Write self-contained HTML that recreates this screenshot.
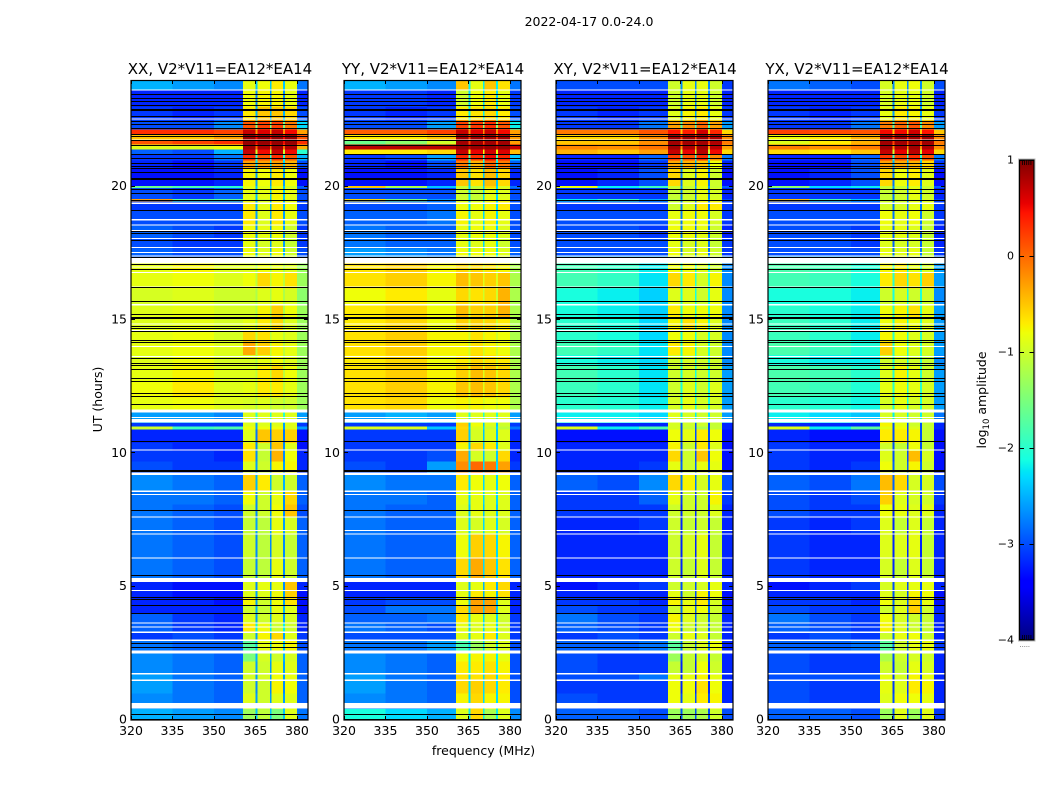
<!DOCTYPE html>
<html>
<head>
<meta charset="utf-8">
<title>2022-04-17 spectrogram</title>
<style>
html,body{margin:0;padding:0;background:#fff;width:1050px;height:800px;overflow:hidden}
svg{display:block}
text{font-family:"DejaVu Sans","Liberation Sans",sans-serif;fill:#000}
.t{font-size:12.5px}
.h{font-size:15px}
</style>
</head>
<body>
<svg id="fig" width="1050" height="800" viewBox="0 0 1050 800" xmlns="http://www.w3.org/2000/svg">
<text x="589" y="26" class="t" text-anchor="middle">2022-04-17 0.0-24.0</text>
<text x="483.5" y="755" class="t" text-anchor="middle">frequency (MHz)</text>
<text transform="translate(102,399.5) rotate(-90)" class="t" text-anchor="middle">UT (hours)</text>
<text transform="translate(986,400) rotate(-90)" class="t" text-anchor="middle">log<tspan dy="3" style="font-size:8.5px">10</tspan><tspan dy="-3"> amplitude</tspan></text>
<g id="panels"></g>
<g id="cbar"></g>
</svg>
<script>
// ---- Data: UT hours, MHz, log10 amplitude ----
const panelTitles = ["XX, V2*V11=EA12*EA14","YY, V2*V11=EA12*EA14","XY, V2*V11=EA12*EA14","YX, V2*V11=EA12*EA14"];
const xTicks = [320,335,350,365,380];
const yTicks = [0,5,10,15,20];
const cbarTicks = [-4,-3,-2,-1,0,1];
const cbarMinor = [-3.98,-3.96,-3.94,-3.92,-3.9,0.9,0.92,0.94,0.96,0.98];
const freqEdges = [320,335,350,360.5,365.1,365.8,370.2,370.8,375,375.6,380,384];
// which of the nine per-row values each frequency column shows
const freqSeries = [0,1,2,3,8,4,8,5,8,6,7];
const rowEdges = [0,.43,1,1.5,1.73,2.2,2.6,3,3.3,3.65,4,4.3,4.6,4.85,5.2,6.1,7,7.6,8.1,8.6,9.2,9.7,10.1,10.4,10.9,11.02,11.15,11.65,12.1,12.7,13.3,13.7,14.2,14.6,15.1,15.6,16.2,16.8,17.15,17.4,17.7,18.1,18.6,19.1,19.45,19.55,19.96,20.03,20.7,21,21.2,21.4,21.6,21.75,21.95,22.15,22.5,23,23.65,24];
const blankedRanges = [[.43,.63],[1.47,1.52],[1.71,1.76],[2.5,2.6],[2.96,3.01],[3.27,3.31],[3.46,3.5],[3.62,3.66],[4.83,4.87],[5.17,5.33],[6.06,6.1],[6.96,7],[7.08,7.12],[7.6,7.64],[8.43,8.48],[8.55,8.6],[9.19,9.28],[10.11,10.15],[11.15,11.28],[11.33,11.37],[11.54,11.64],[13.61,13.65],[13.98,14.02],[14.58,14.62],[14.83,14.87],[15.55,15.6],[16.21,16.25],[16.76,16.8],[16.96,17],[17.12,17.32],[17.38,17.42],[17.52,17.55],[17.7,17.74],[18.04,18.08],[18.33,18.37],[18.55,18.59],[18.74,18.78],[19.35,19.4],[21.72,21.76],[22.51,22.55],[23.61,23.65]];
const zeroLines = [0,.17,2.7,2.85,3.97,4.29,4.5,4.58,5.39,7.83,9.3,9.35,10.41,11.81,12.12,12.22,12.68,12.78,13.14,13.26,13.35,13.54,14.14,14.2,14.56,14.67,14.75,15.05,15.09,15.2,15.68,16.2,17.08,16.87,17.33,17.97,18.22,18.3,19.08,19.47,19.72,19.87,20.25,20.3,20.5,20.65,20.75,20.85,21.02,21.2,21.54,21.72,21.87,21.93,22.18,22.33,22.43,22.62,22.82,22.88,23.02,23.18,23.3,23.43];
const seriesXX = [
[-2.5,-2.6,-2.7,-1.3,-1.1,-1.5,-.9,-2.8,-2.4],[-2.7,-2.8,-2.9,-.9,-1,-.9,-.9,-2.9,-2.6],[-2.6,-2.8,-2.9,-1,-1,-.75,-.8,-2.9,-2.7],[-2.6,-2.8,-2.9,-.95,-.95,-.8,-.85,-2.9,-2.6],[-2.7,-2.8,-2.9,-1,-1,-.85,-.9,-2.9,-2.6],[-2.7,-2.8,-2.9,-1.5,-.95,-1,-.95,-2.9,-2.5],[-2.8,-2.9,-2.9,-1.7,-.85,-.8,-.75,-3,-2.4],[-3.1,-3,-3.1,-1,-.75,-.6,-.9,-3.1,-2.6],[-2.9,-3.1,-3.2,-.7,-.8,-1,-1,-3.2,-2.2],[-2.9,-3.1,-3.2,-.9,-1,-.9,-.95,-3.2,-2.6],
[-3.2,-3.2,-3.2,-1,-1.05,-.85,-.9,-3.3,-2.5],[-3.2,-3.2,-3.3,-.75,-1,-.8,-.65,-3.3,-2.6],[-3.2,-3.3,-3.3,-.9,-.9,-.8,-.55,-3.3,-2.6],[-3.2,-3.3,-3.3,-.9,-.85,-.85,-.5,-3.2,-2.7],[-2.8,-2.9,-3,-1.05,-1.1,-.85,-1,-2.9,-2.7],[-2.8,-2.9,-3,-1,-1.1,-.95,-1.05,-2.9,-2.7],[-2.8,-2.9,-3,-1.05,-1.1,-.85,-.95,-2.9,-2.6],[-2.8,-2.9,-3,-1,-1,-.8,-.5,-3,-2.7],[-2.8,-2.8,-2.9,-.8,-1,-.85,-.6,-2.9,-2.7],[-2.7,-2.8,-2.9,-.55,-.7,-1,-1,-2.9,-2.5],
[-3,-3.1,-3.1,-.9,-1,-.75,-.75,-3.2,-2.6],[-3.1,-3.1,-3.2,-.65,-1.05,-.4,-.8,-3.2,-2.7],[-3.1,-3.2,-3.2,-.7,-1,-.5,-.9,-3.3,-2.7],[-3.2,-3.2,-3.2,-.9,-.5,-.55,-.55,-3.3,-2.8],[-1,-1.9,-1.8,-.8,-.8,-.8,-.9,-2.6,-2.6],[-3.1,-3.1,-3.1,-.9,-.9,-.9,-.9,-3.1,-2.6],[-2.6,-2.6,-2.7,-.9,-.9,-.9,-.9,-2.6,-2],[-.85,-.8,-.9,-.95,-.9,-1,-1,-1.3,-1.2],[-.8,-.7,-.9,-.85,-.7,-.7,-.85,-1.3,-1.1],[-.85,-.75,-.9,-.9,-.7,-.6,-.8,-1.3,-1.1],
[-.9,-.8,-.95,-.95,-.85,-.8,-.9,-1.3,-1.2],[-.85,-.8,-.9,-.35,-.55,-.75,-.85,-1.3,-1.1],[-.85,-.8,-.95,-.6,-.65,-.85,-.9,-1.3,-1.1],[-.9,-.85,-.95,-.85,-.7,-.6,-.9,-1.3,-1.2],[-.9,-.85,-.95,-.95,-.75,-.55,-.8,-1.3,-1.2],[-.95,-.9,-1,-1,-.9,-.85,-.95,-1.4,-1.2],[-.85,-.8,-.9,-.8,-.6,-.75,-.65,-1.3,-1.1],[-.85,-.75,-.9,-.9,-.8,-.85,-.9,-1.3,-1.2],[-2.9,-2.9,-2.9,-.85,-.8,-.8,-.9,-2.9,-2.3],
[-2.9,-3,-3,-.8,-.9,-.8,-1,-3,-2.5],[-3,-3.1,-3.1,-.85,-.95,-.9,-1.05,-3.1,-2.6],[-2.9,-3,-3.1,-.8,-.85,-.8,-1,-3.1,-2.6],[-3,-3,-3,-.7,-.9,-.7,-.85,-3,-2.6],[-3.1,-3.1,-3.1,-.7,-.85,-.7,-.8,-3.1,-2.5],[-.3,-1.7,-1.7,-.9,-1,-.8,-.9,-3,-2.5],[-3,-3.1,-2.9,-.85,-.85,-.75,-.85,-3,-2.4],[-1.6,-1.8,-2,-.85,-.9,-.85,-1,-2.9,-2.4],[-3.3,-3.3,-3.2,-.75,-.8,-.7,-.8,-3.3,-2.6],[-3.2,-3.3,-3.1,-.3,-.3,-.3,-.4,-3,-2.3],
[-3.1,-3.1,-2.8,.3,.1,.3,.1,-2.5,-2],[-2.9,-3,-2.5,.7,.5,.7,.5,-2,-1],[-.9,-.9,-.8,.85,.8,.85,.8,-.4,0],[.1,.2,.3,.9,.9,.9,.9,.3,.5],[-.5,-.5,-.3,.9,.9,.9,.9,.1,.5],[.3,.3,.2,.7,.6,.7,.5,-.3,-.2],[-3,-3,-2.7,.1,.2,.2,-.1,-2.3,-1.5],[-3.1,-3.2,-3.1,-.7,-.5,-.5,-.6,-3,-2.5],[-3.2,-3.2,-3.2,-.8,-.75,-.75,-.85,-3.2,-2.7],[-2.5,-2.6,-2.7,-.85,-.8,-.7,-.85,-2.8,-2.4]
];
const seriesYY = [
[-2.1,-2.3,-2.5,-.9,-.6,-1.2,-.9,-2.7,-2.2],[-2.7,-2.8,-2.9,-.75,-.6,-.75,-.75,-3,-2.3],[-2.6,-2.8,-2.9,-.6,-.55,-.6,-.7,-3,-2.3],[-2.6,-2.8,-2.9,-.65,-.65,-.6,-.7,-3,-2.3],[-2.7,-2.8,-2.9,-.7,-.7,-.65,-.75,-3,-2.2],[-2.7,-2.8,-2.9,-.8,-.75,-.75,-.85,-3,-2.2],[-2.8,-2.8,-2.6,-1.8,-1.3,-1,-.9,-3,-2.3],[-3,-3,-3,-.9,-.85,-.7,-.9,-3.1,-2.4],[-2.8,-2.9,-3,-.85,-.9,-.85,-.95,-3.1,-2.3],[-2.9,-2.9,-2.8,-.7,-.85,-.9,-1,-3.1,-2.3],
[-3,-2.8,-2.8,-.6,-.3,-.3,-.9,-3.2,-2.4],[-3.1,-3,-3,-.8,-.3,-.3,-.9,-3.2,-2.4],[-3.2,-3.2,-3.2,-.85,-.7,-.75,-.65,-3.2,-2.5],[-3.2,-3.2,-3.2,-.9,-.85,-.7,-.6,-3.2,-2.5],[-2.8,-2.9,-2.9,-.6,-.35,-.5,-.65,-2.9,-2.3],[-2.8,-2.9,-2.9,-.8,-.55,-.6,-.75,-2.9,-2.3],[-2.8,-2.9,-2.9,-.9,-.95,-.9,-.95,-2.9,-2.3],[-2.8,-2.9,-2.9,-.9,-.85,-.9,-.9,-2.9,-2.4],[-2.8,-2.8,-2.9,-.85,-.85,-.9,-.9,-2.9,-2.3],[-2.7,-2.8,-2.8,-.7,-.8,-.85,-.8,-2.9,-2.3],
[-3,-3.1,-2.6,-.2,.0,-.1,-.3,-3.1,-2.3],[-3.1,-3.1,-3,-.35,-.95,-1,-.6,-3.2,-2.4],[-3.1,-3.1,-3.1,-.75,-.6,-.7,-.9,-3.2,-2.4],[-3.1,-3.1,-3.1,-.55,-.95,-.9,-.9,-3.2,-2.4],[-.9,-.9,-2.4,-.6,-.9,-1,-1.1,-2.8,-2.3],[-3.1,-3.1,-3.1,-.55,-.8,-.9,-1,-3.1,-2.4],[-2.6,-2.5,-2.6,-.9,-.9,-.9,-.9,-2.6,-2],[-.65,-.6,-.8,-.75,-.75,-.8,-.8,-1.2,-1],[-.65,-.55,-.75,-.5,-.45,-.5,-.6,-1.2,-.9],[-.65,-.55,-.75,-.55,-.45,-.5,-.6,-1.2,-.9],
[-.7,-.6,-.8,-.7,-.6,-.65,-.7,-1.2,-1],[-.65,-.55,-.75,-.75,-.65,-.75,-.8,-1.2,-1],[-.65,-.55,-.75,-.75,-.65,-.75,-.8,-1.2,-1],[-.7,-.6,-.8,-.55,-.55,-.6,-.7,-1.2,-1],[-.7,-.6,-.8,-.45,-.55,-.55,-.4,-1.2,-1],[-.8,-.7,-.85,-.6,-.65,-.6,-.4,-1.2,-1],[-.65,-.55,-.75,-.45,-.5,-.55,-.5,-1.2,-.9],[-.65,-.55,-.75,-.6,-.6,-.65,-.75,-1.2,-1],[-2.6,-2.6,-2.7,-.85,-.75,-.85,-.9,-2.8,-2],
[-2.6,-2.7,-2.8,-.8,-.8,-.8,-.9,-2.9,-2.2],[-2.8,-2.9,-2.9,-.85,-.9,-.85,-1,-3,-2.3],[-2.8,-2.9,-2.9,-.85,-.8,-.8,-.9,-3,-2.3],[-2.9,-2.9,-2.8,-.75,-.85,-.75,-.85,-3,-2.3],[-3,-3,-2.9,-.8,-.8,-.75,-.7,-3,-2.3],[-.6,-1.5,-2.6,-1,-1.1,-.8,-.85,-2.9,-2.3],[-3,-3,-3,-1,-1.05,-.85,-.9,-3,-2.3],[-.5,-1.2,-2.4,-1.05,-1.1,-.6,-.95,-2.8,-2.3],[-3.3,-3.3,-3.2,-.5,-.65,-.45,-.6,-3.2,-2.4],[-3.2,-3.3,-3,-.1,-.4,0,-.1,-2.9,-2.2],
[-3.1,-3,-2.6,.35,.3,.5,.35,-2.4,-1.8],[-.7,-.7,-.6,.7,.55,.65,.6,-.45,-.8],[.75,.75,.75,.9,.9,.9,.9,.7,.7],[-1.6,-1.4,-1,.85,.85,.85,.85,-.3,.2],[-.7,-.7,-.5,.85,.85,.85,.85,-.3,.2],[.05,.05,.2,.7,.6,.7,.5,-.3,-.2],[-3,-3,-2.6,.2,.25,.3,.1,-2.2,-1.4],[-3.1,-3.2,-3.1,-.7,-.65,-.6,-.7,-3,-2.2],[-3.1,-3.1,-3.2,-1,-.8,-.7,-.85,-3.1,-2.3],[-2.5,-2.6,-2.7,-.5,-.85,-.5,-.65,-2.8,-2.2]
];
const seriesXY = [
[-2.9,-2.9,-3,-1.3,-1.3,-1.2,-1,-3,-3],[-3,-3.1,-3.1,-.8,-.85,-.7,-.75,-3.2,-3],[-3.1,-3.1,-3.1,-.8,-.8,-.65,-.8,-3.2,-3.2],[-3,-3,-2.8,-.85,-.85,-.75,-.85,-3.2,-3.2],[-3,-3.1,-3.1,-1.05,-1.05,-.8,-1,-3.2,-3.2],[-3,-3.1,-3.1,-1.3,-1.05,-.95,-1.05,-3.2,-3.1],[-2.9,-2.9,-2.8,-1.7,-1.05,-.9,-.8,-3.2,-2.8],[-3.1,-3,-3.1,-1,-.85,-.9,-1.05,-3.2,-3],[-2.9,-3,-3.1,-.8,-1,-1,-1.05,-3.2,-2.9],[-2.8,-3,-3.1,-.75,-.9,-1,-1.05,-3.2,-2.9],
[-3,-3.1,-3.1,-1,-.85,-.8,-1,-3.2,-2.9],[-3.1,-3.1,-3.2,-.75,-.85,-.7,-.95,-3.3,-2.9],[-3.2,-3.2,-3.2,-.85,-1,-.75,-.8,-3.3,-3],[-3.3,-3.2,-3.1,-1,-1,-.95,-.85,-3.2,-3],[-3.2,-3.2,-3.2,-1,-1.05,-.9,-1.05,-3.2,-3.2],[-3.2,-3.2,-3.2,-1,-.95,-.85,-1.05,-3.2,-3.2],[-3.2,-3.2,-3.1,-1,-1.05,-1,-1.05,-3.2,-3.2],[-3.1,-3.1,-3.1,-1,-1,-1,-.9,-3.2,-3.2],[-3.1,-3.1,-2.9,-.85,-1,-1,-.75,-3.1,-3.1],[-2.9,-3,-2.7,-.6,-.75,-.95,-.85,-3,-2.8],
[-3.2,-3.2,-3.1,-.85,-1,-.85,-.85,-3.3,-2.9],[-3.2,-3.2,-3.2,-.6,-1,-.5,-.8,-3.3,-3],[-3.2,-3.2,-3.2,-.75,-1,-.7,-.9,-3.3,-3],[-3.3,-3.3,-3.3,-.8,-.85,-.7,-.8,-3.3,-3],[-.9,-2.2,-1.8,-.95,-1.05,-1.2,-1.05,-3.2,-3],[-3.2,-3.2,-3.2,-.95,-1,-1,-1.05,-3.2,-3],[-2.2,-2.2,-2.3,-.9,-.95,-1,-1,-2.6,-2.2],[-2,-2.05,-2.2,-.95,-.85,-.95,-.95,-2.6,-2.1],[-1.9,-2,-2.25,-1,-.9,-1,-.9,-2.6,-2.1],[-1.85,-2,-2.25,-1,-.95,-1,-1,-2.6,-2.1],
[-2.1,-2.2,-2.3,-1,-.95,-1,-1,-2.7,-2.1],[-1.85,-1.95,-2.25,-.7,-.75,-.95,-1,-2.7,-2.1],[-2,-2.1,-2.3,-.8,-.8,-.95,-.95,-2.7,-2.1],[-2,-2.1,-2.3,-.75,-.65,-.75,-.9,-2.7,-2.1],[-2.1,-2.2,-2.35,-.7,-.8,-.8,-.8,-2.7,-2],[-2.1,-2.2,-2.35,-.9,-.9,-1,-.85,-2.7,-2.1],[-1.85,-1.95,-2.25,-.6,-.7,-.95,-.75,-2.7,-2],[-1.85,-1.95,-2.2,-.8,-.8,-.9,-1,-2.7,-2.1],[-2.6,-2.6,-2.6,-.85,-.8,-.85,-.95,-2.8,-2.3],
[-3,-3,-3,-.8,-.95,-.85,-1,-3.1,-2.8],[-3,-3,-3,-.85,-.95,-.9,-1.05,-3.1,-2.8],[-3,-3,-3.1,-.8,-.8,-.85,-1,-3.2,-2.8],[-3,-3,-3,-.85,-.8,-.8,-.95,-3.1,-2.8],[-3.1,-3.1,-3.1,-1,-.9,-.7,-.7,-3.1,-2.8],[-2.2,-1.9,-2.5,-1.15,-1.05,-.85,-.9,-3,-2.6],[-3.1,-3.1,-3.1,-1.05,-1,-.85,-.95,-3.2,-2.8],[-.8,-2.2,-1.9,-1.05,-1.05,-.85,-1.05,-2.9,-2.6],[-3.3,-3.2,-3,-.6,-.9,-.75,-1,-3.3,-2.8],[-3.3,-3.3,-3.1,-.35,-.4,-.5,-.8,-3.2,-2.5],
[-3.2,-3.2,-2.9,.2,.1,.3,-.2,-2.8,-2],[-.4,-.5,-.3,.7,.55,.75,.5,-.6,-1],[-.15,-.2,-.05,.85,.8,.85,.75,-.3,-.2],[-.5,-.5,-.2,.85,.85,.85,.8,-.1,.2],[-.6,-.6,-.2,.85,.85,.85,.8,-.2,.2],[-.1,-.1,.1,.45,.4,.65,.35,-.6,-.5],[-3.1,-3.1,-2.8,-.3,-.2,.0,-.3,-2.6,-1.8],[-3.1,-3.2,-3.1,-.9,-.75,-.7,-.85,-3.1,-2.6],[-3.2,-3.2,-3.2,-1,-.85,-.85,-1,-3.2,-2.7],[-3,-3,-3,-1,-.85,-.85,-1,-3.1,-2.7]
];
const seriesYX = [
[-2.9,-2.9,-3,-1.3,-.9,-1.3,-.9,-3.1,-3],[-3,-3.1,-3.1,-.9,-.8,-.8,-.85,-3.2,-3],[-3,-3.1,-3.1,-.85,-.9,-.7,-.75,-3.2,-3.1],[-3,-3,-3,-.85,-.95,-.75,-.85,-3.2,-3.1],[-3,-3.1,-3.1,-1,-1.05,-.85,-.95,-3.2,-3.1],[-3,-3.1,-3.1,-1.2,-1,-.95,-1,-3.2,-3],[-2.9,-2.9,-2.8,-1.7,-1,-.85,-.85,-3.1,-2.8],[-3.1,-3,-3.1,-1,-.85,-.8,-1,-3.2,-2.9],[-2.9,-3,-3.1,-.75,-.9,-1,-1.05,-3.2,-2.8],[-2.8,-3,-3.1,-.8,-.95,-1,-1.05,-3.2,-2.9],
[-3,-3.1,-3.1,-1,-.9,-.55,-1,-3.2,-2.9],[-3.1,-3.1,-3.2,-.8,-.9,-.6,-.85,-3.3,-2.9],[-3.2,-3.2,-3.2,-.9,-.95,-.75,-.8,-3.3,-3],[-3.3,-3.2,-3.1,-.95,-.9,-.85,-.85,-3.2,-3],[-3.1,-3.2,-3.2,-.95,-1.05,-.9,-1.05,-3.2,-3.2],[-3.1,-3.2,-3.2,-.9,-.9,-.85,-1.05,-3.2,-3.2],[-3.1,-3.2,-3.1,-.9,-1.05,-.9,-1.05,-3.2,-3.2],[-3,-3.1,-3.1,-.8,-.85,-.9,-.9,-3.2,-3.2],[-3,-3.1,-3,-.55,-.9,-.95,-1,-3.1,-3.1],[-2.9,-3,-2.8,-.45,-.6,-.95,-.95,-3,-2.9],
[-3.1,-3.2,-3.1,-.8,-1,-.75,-1,-3.3,-2.9],[-3.1,-3.2,-3.2,-.9,-1,-.45,-.95,-3.3,-3],[-3.1,-3.2,-3.2,-1,-1.05,-.8,-1.05,-3.3,-3],[-3.2,-3.3,-3.3,-.7,-.7,-.75,-1.05,-3.3,-3],[-.9,-2.2,-1.7,-.85,-.8,-.9,-1.05,-3.2,-3],[-3.2,-3.2,-3.2,-.75,-.85,-1,-1.05,-3.2,-3],[-2.2,-2.3,-2.4,-.95,-.95,-1,-1,-2.8,-2.2],[-2,-2.05,-2.15,-.95,-.85,-.95,-.95,-2.6,-2.1],[-1.85,-1.9,-2.05,-.85,-.8,-.85,-.95,-2.6,-2],[-1.8,-1.85,-2,-.9,-.75,-.85,-1,-2.6,-2],
[-2.1,-2.2,-2.2,-1,-.95,-1,-1.05,-2.7,-2.1],[-1.8,-1.9,-2.05,-.55,-.8,-.9,-.95,-2.6,-2],[-1.9,-2,-2.2,-.75,-.8,-.9,-.95,-2.6,-2],[-1.9,-2,-2.2,-.8,-.75,-.8,-.9,-2.6,-2],[-2,-2.1,-2.2,-.8,-.75,-.65,-.85,-2.6,-2],[-2.1,-2.1,-2.2,-1,-.95,-1,-1,-2.7,-2.1],[-1.85,-1.9,-2.1,-.7,-.6,-.65,-.55,-2.6,-2],[-1.8,-1.85,-2.05,-.75,-.7,-.85,-.95,-2.6,-2],[-2.6,-2.6,-2.7,-.85,-.8,-.85,-.95,-2.8,-2.3],
[-3,-3,-3,-.85,-.9,-.85,-1.05,-3.1,-2.8],[-3,-3,-3.1,-.9,-.95,-.95,-1.05,-3.2,-2.9],[-3,-3,-3.1,-.85,-.85,-.9,-1.05,-3.2,-2.9],[-3,-3,-3,-.8,-.85,-.8,-1,-3.1,-2.8],[-3.1,-3.1,-3.1,-.95,-.95,-.85,-.85,-3.1,-2.8],[-.5,-1.8,-2.4,-1.05,-1.05,-.9,-.95,-3,-2.7],[-3.1,-3.1,-3.1,-1.05,-1,-.85,-1,-3.2,-2.8],[-1.4,-2.3,-2.2,-1.05,-1.05,-.9,-1.05,-2.9,-2.6],[-3.3,-3.2,-3,-.6,-.8,-.7,-.9,-3.3,-2.8],[-3.3,-3.3,-3,-.3,-.35,-.4,-.6,-3.1,-2.5],
[-3.2,-3.2,-2.9,.25,.15,.3,.1,-2.8,-2],[-.6,-.7,-.5,.7,.55,.75,.55,-.6,-1],[-.1,-.2,-.1,.85,.8,.85,.8,-.2,-.2],[-.9,-.7,-.4,.85,.85,.85,.85,-.1,.2],[-.8,-.7,-.4,.85,.85,.85,.85,-.2,.2],[.2,.15,.1,.5,.5,.65,.45,-.5,-.5],[-3.1,-3.1,-2.8,-.1,0,.1,-.2,-2.6,-1.8],[-3.1,-3.2,-3.1,-.85,-.7,-.75,-.85,-3.1,-2.6],[-3.2,-3.2,-3.2,-.95,-.85,-.85,-1,-3.2,-2.7],[-2.8,-2.9,-3,-.95,-.85,-.8,-1,-3,-2.7]
];
const panelSeries = [seriesXX, seriesYY, seriesXY, seriesYX];

// ---- Layout + axis functions ----
const NS = "http://www.w3.org/2000/svg";
const panelLefts = [131,344,556,768], panelW = 177, plotTop = 80, plotH = 640;
const cbLeft = 1019.5, cbW = 14.5, cbTop = 160, cbH = 480;
const xMin = 320, xMax = 384, yMin = 0, yMax = 24, vMin = -4, vMax = 1;
function xAxis(left, f){ return left + (f - xMin) / (xMax - xMin) * panelW; }
function yAxis(t){ return plotTop + plotH - (t - yMin) / (yMax - yMin) * plotH; }
function cbAxis(v){ return cbTop + cbH - (v - vMin) / (vMax - vMin) * cbH; }
function lerp(pts, u){
  for (let i = 1; i < pts.length; i++) if (u <= pts[i][0]) {
    const a = pts[i-1], b = pts[i];
    return a[1] + (b[1]-a[1]) * (u-a[0]) / (b[0]-a[0]);
  }
  return pts[pts.length-1][1];
}
const jetR = [[0,0],[.35,0],[.66,1],[.89,1],[1,.5]];
const jetG = [[0,0],[.125,0],[.375,1],[.64,1],[.91,0],[1,0]];
const jetB = [[0,.5],[.11,1],[.34,1],[.65,0],[1,0]];
function colour(v){
  const u = Math.max(0, Math.min(1, (v - vMin) / (vMax - vMin)));
  const c = [jetR, jetG, jetB].map(p => Math.round(255 * lerp(p, u)));
  return `rgb(${c[0]},${c[1]},${c[2]})`;
}
function el(parent, tag, attrs, text){
  const e = document.createElementNS(NS, tag);
  for (const k in attrs) e.setAttribute(k, attrs[k]);
  if (text !== undefined) e.textContent = text;
  parent.appendChild(e);
  return e;
}
const panelsG = document.getElementById("panels");
panelLefts.forEach((left, p) => {
  const g = el(panelsG, "g", {});
  
  
  const cells = el(g, "g", {"shape-rendering":"crispEdges"});
  
  
  panelSeries[p].forEach((row, r) => {
    const y1 = yAxis(rowEdges[r+1]), y0 = yAxis(rowEdges[r]);
    freqSeries.forEach((s, c) => {
      const x0 = xAxis(left, freqEdges[c]), x1 = xAxis(left, freqEdges[c+1]);
      const cell = el(cells, "rect", {x:x0, y:y1, width:x1-x0+.3, height:y0-y1+.3, fill:colour(row[s])});
      
      
    });
  });
  blankedRanges.forEach(b => {
    const line = el(cells, "rect", {x:left, y:yAxis(b[1]), width:panelW, height:yAxis(b[0])-yAxis(b[1]), fill:"#fff"});
    
    
  });
  zeroLines.forEach(t => {
    const line = el(cells, "rect", {x:left, y:Math.round(yAxis(t))-1, width:panelW, height:1, fill:"#000"});
    
    
  });
  const frame = el(g, "rect", {x:left, y:plotTop+.5, width:panelW, height:plotH-.5, fill:"none", stroke:"#000", "stroke-width":1.2});
  
  
  const title = el(g, "text", {x:left+panelW/2+.5, y:74, "text-anchor":"middle", class:"h"}, panelTitles[p]);
  
  
  xTicks.forEach(f => {
    const x = Math.round(xAxis(left, f)) + .5;
    const tk = el(g, "path", {d:`M${x} ${plotTop}v4M${x} ${plotTop+plotH}v-4`, stroke:"#000", "stroke-width":1});
    
    
    const lb = el(g, "text", {x:xAxis(left, f), y:735, "text-anchor":"middle", class:"t"}, f);
    
    
  });
  yTicks.forEach(t => {
    const y = Math.round(yAxis(t)) - .5;
    const tk = el(g, "path", {d:`M${left} ${y}h4M${left+panelW} ${y}h-4`, stroke:"#000", "stroke-width":1});
    
    
    const lb = el(g, "text", {x:left-4, y:yAxis(t)+3.5, "text-anchor":"end", class:"t"}, t);
    
    
  });
});

// colour bar
const cb = document.getElementById("cbar");
const defs = el(cb, "defs", {});
const grad = el(defs, "linearGradient", {id:"jetGrad", x1:0, y1:1, x2:0, y2:0});
[0,.11,.125,.34,.35,.375,.5,.64,.65,.66,.75,.89,.91,1].forEach(u => {
  el(grad, "stop", {offset:u, "stop-color":colour(vMin + u * (vMax - vMin))});
});
const bar = el(cb, "rect", {x:cbLeft, y:cbTop, width:cbW, height:cbH, fill:"url(#jetGrad)", stroke:"#000", "stroke-width":1.2});


const halo = el(cb, "rect", {x:cbLeft-1, y:cbTop-1, width:cbW+2, height:cbH+2, fill:"none", stroke:"#bbb", "stroke-width":1});


cbarTicks.forEach(v => {
  const y = Math.round(cbAxis(v)) + (v === -4 ? -.5 : .5);
  const tk = el(cb, "path", {d:`M${cbLeft} ${y}h4.5M${cbLeft+cbW} ${y}h-4.5`, stroke:"#000", "stroke-width":1});
  
  
  const lb = el(cb, "text", {x:1014, y:cbAxis(v)+3.5, "text-anchor":"end", class:"t", style:"font-size:11px"}, v < 0 ? "\u2212" + (-v) : v);
  
  
});
cbarMinor.forEach((v, i) => {
  const x = cbLeft + 3 + (i % 5) * 2.1;
  const inTop = v > 0;
  const tk = el(cb, "path", {d:`M${x} ${inTop ? cbTop : cbTop+cbH}v${inTop ? 5 : -5}`, stroke:"#000", "stroke-width":.8});
  
  
  if (!inTop) {
    const dot = el(cb, "rect", {x:x-2.5, y:646, width:1, height:1, fill:"#999"});
    
    
  }
});
</script>
</body>
</html>
